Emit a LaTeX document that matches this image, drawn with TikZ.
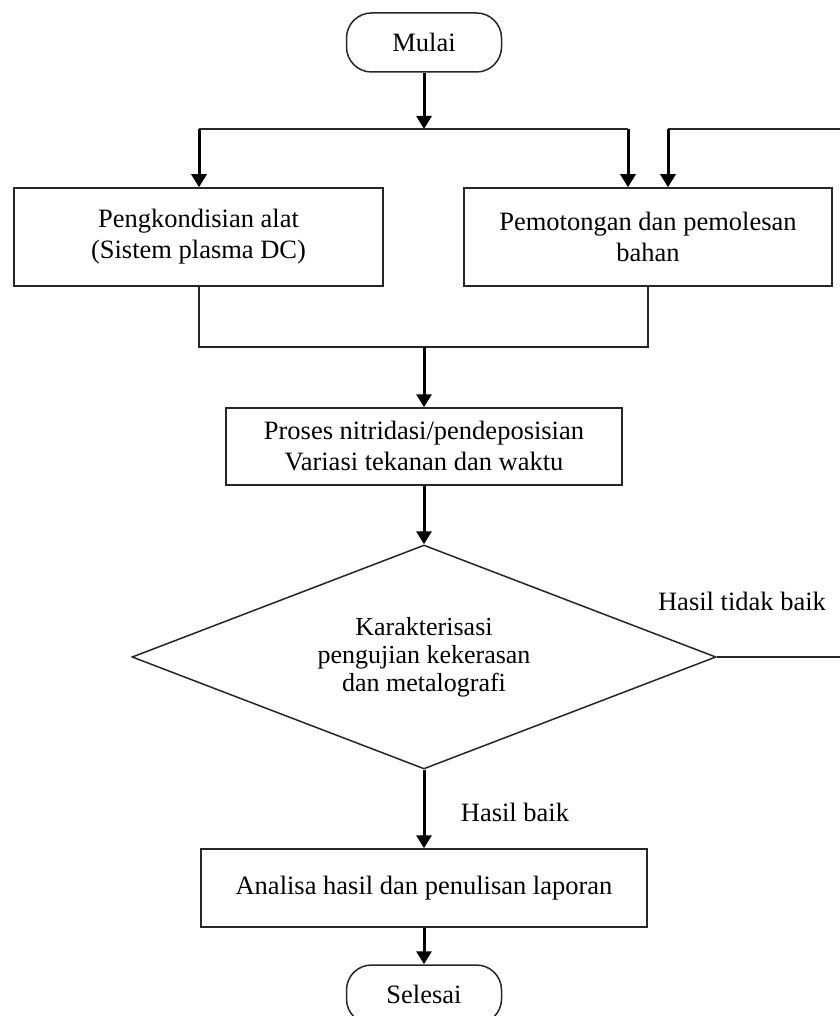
\documentclass[tikz,border=0pt]{standalone}
\usepackage{fontspec}
\setmainfont{Liberation Serif}
\usetikzlibrary{shapes.geometric,arrows.meta}
\begin{document}
\begin{tikzpicture}[x=1pt,y=-1pt,
  every node/.style={font=\fontsize{26.5}{31}\selectfont, align=center, text=black},
  box/.style={draw=black!85, line width=1.5pt, inner sep=0pt},
  term/.style={draw=black!85, line width=1.5pt, rounded corners=25pt, minimum width=155pt, minimum height=59pt, inner sep=0pt},
  dec/.style={draw=black!85, line width=1.5pt, diamond, aspect=2.6, minimum width=584pt, minimum height=224pt, inner sep=0pt, font=\fontsize{26}{28}\selectfont},
  lbl/.style={inner sep=0pt},
  arr/.style={line width=3pt, -{Triangle[length=13pt,width=15pt]}},
  ln/.style={draw=black!85, line width=1.5pt},
]
\useasboundingbox (0,0) rectangle (839,1016);
\fill[white] (0,0) rectangle (839,1016);

% nodes
\node[term] (mulai) at (424,42.5) {Mulai};
\node[box, minimum width=369pt, minimum height=98pt] (b1) at (198.5,237) {Pengkondisian alat\\(Sistem plasma DC)};
\node[box, minimum width=368pt, minimum height=98pt] (b2) at (648,237) {Pemotongan dan pemolesan\\bahan};
\node[box, minimum width=396pt, minimum height=77pt] (b3) at (424,446.5) {Proses nitridasi/pendeposisian\\Variasi tekanan dan waktu};
\node[dec] (dia) at (424,657) {Karakterisasi\\pengujian kekerasan\\dan metalografi};
\node[box, minimum width=446pt, minimum height=78pt] (b4) at (424,888) {Analisa hasil dan penulisan laporan};
\node[term] (sel) at (424,994.5) {Selesai};

% labels
\node[lbl] (lbad) at (742,601) {Hasil tidak baik};
\node[lbl] (lgood) at (515,812) {Hasil baik};

% junction coordinates
\coordinate (hl) at (199,129);
\coordinate (hr) at (628,129);
\coordinate (fl) at (668,129);
\coordinate (fr) at (843,129);
\coordinate (ml) at (199,347);
\coordinate (mr) at (648,347);
\coordinate (mm) at (424,347);

% connectors
\draw[arr] (mulai.south) -- (mulai.south |- hl);
\draw[ln] (hl) -- (hr);
\draw[arr] (hl) -- (hl |- b1.north);
\draw[arr] (hr) -- (hr |- b2.north);

\draw[ln] (dia.east) -- (dia.east -| fr) -- (fr) -- (fl);
\draw[arr] (fl) -- (fl |- b2.north);

\draw[ln] (b1.south -| ml) -- (ml) -- (mr) -- (b2.south -| mr);
\draw[arr] (mm) -- (b3.north);
\draw[arr] (b3.south) -- (dia.north);
\draw[arr] (dia.south) -- (b4.north);
\draw[arr] (b4.south) -- (sel.north);
\end{tikzpicture}
\end{document}
